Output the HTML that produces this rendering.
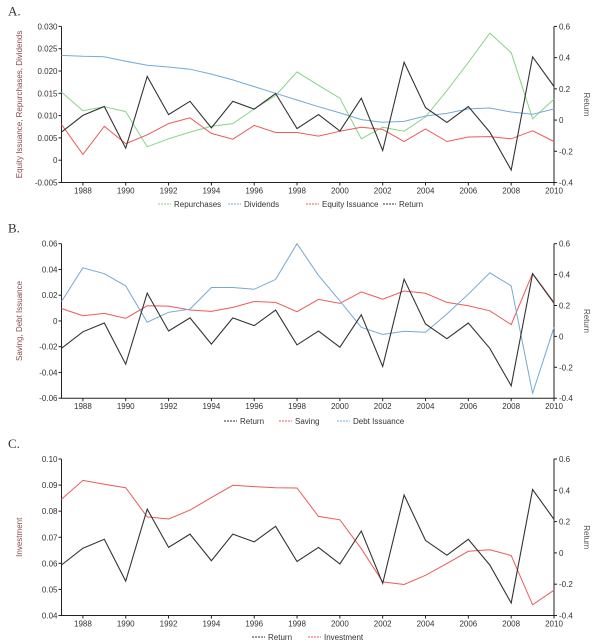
<!DOCTYPE html>
<html><head><meta charset="utf-8">
<style>
body{margin:0;background:#fff;}
svg{display:block;font-family:"Liberation Sans",sans-serif;}
</style></head>
<body>
<svg id="chart" width="600" height="644" viewBox="0 0 600 644" xmlns="http://www.w3.org/2000/svg"></svg>
<script>
const years = [1987,1988,1989,1990,1991,1992,1993,1994,1995,1996,1997,1998,1999,2000,2001,2002,2003,2004,2005,2006,2007,2008,2009,2010];
const xTickYears = [1988,1990,1992,1994,1996,1998,2000,2002,2004,2006,2008,2010];
const returnVals = [-0.077,0.03,0.087,-0.18,0.28,0.035,0.12,-0.05,0.12,0.07,0.17,-0.055,0.035,-0.07,0.14,-0.195,0.37,0.08,-0.015,0.087,-0.077,-0.32,0.405,0.215];
const dividends = [0.0235,0.0233,0.0232,0.0222,0.0213,0.0209,0.0204,0.0193,0.018,0.0165,0.015,0.0135,0.012,0.0106,0.0091,0.0085,0.0087,0.0099,0.0105,0.0115,0.0117,0.0108,0.0103,0.0115];
const repurchases = [0.0153,0.0111,0.012,0.0109,0.003,0.0048,0.0063,0.0076,0.0082,0.0115,0.0145,0.0198,0.0168,0.0139,0.0048,0.0074,0.0065,0.0097,0.0156,0.0219,0.0285,0.0241,0.0093,0.0137];
const equityIssuance = [0.008,0.0013,0.0076,0.0037,0.0057,0.0082,0.0095,0.006,0.0047,0.0078,0.0062,0.0062,0.0054,0.0065,0.0074,0.0069,0.0042,0.007,0.0042,0.0052,0.0053,0.0048,0.0066,0.0042];
const saving = [0.0097,0.0041,0.0059,0.002,0.0118,0.0115,0.0085,0.0074,0.0105,0.0151,0.0144,0.0072,0.0167,0.0136,0.0226,0.0169,0.0233,0.0215,0.0144,0.0118,0.0079,-0.0028,0.0369,0.0144];
const debtIssuance = [0.0151,0.0413,0.0367,0.0272,-0.001,0.0067,0.0092,0.026,0.026,0.0246,0.0323,0.06,0.0354,0.0156,-0.0049,-0.0105,-0.008,-0.0087,0.0054,0.0208,0.0374,0.0272,-0.0562,-0.0049];
const investment = [0.0846,0.0918,0.0903,0.089,0.0778,0.077,0.0804,0.0852,0.0899,0.0894,0.089,0.0889,0.078,0.0767,0.0656,0.0529,0.0519,0.0554,0.0599,0.0646,0.0652,0.063,0.0441,0.0497];
const leftTicksA = ["0.030","0.025","0.020","0.015","0.010","0.005","0","-0.005"];
const leftTicksB = ["0.06","0.04","0.02","0","-0.02","-0.04","-0.06"];
const leftTicksC = ["0.10","0.09","0.08","0.07","0.06","0.05","0.04"];
const rightTicks = ["0.6","0.4","0.2","0","-0.2","-0.4"];

const NS="http://www.w3.org/2000/svg";
const svg=document.getElementById('chart');
function mk(tag,attrs,parent){const e=document.createElementNS(NS,tag);for(const k in attrs)e.setAttribute(k,attrs[k]);(parent||svg).appendChild(e);return e;}
const X0=61.5,X1=554;
function xs(yr){return X0+(yr-1987)/(2010-1987)*(X1-X0);}

function panel(cfg){
  const g=mk('g',{});
  
  
  const top=cfg.top,bot=cfg.bot;
  const ly=v=>bot-(v-cfg.lmin)/(cfg.lmax-cfg.lmin)*(bot-top);
  const ry=v=>bot-(v+0.4)/1.0*(bot-top);
  const t=mk('text',{x:8,y:cfg.top-11,'font-family':'Liberation Serif,serif','font-size':13,fill:'#333'},g);t.textContent=cfg.letter;
  
  // axes
  const ax=mk('path',{d:`M${X0},${top}V${bot}H${X1}V${top}`,stroke:'#222','stroke-width':1,fill:'none'},g);
  
  cfg.lticks.forEach((s,i)=>{
    const y=top+i*(bot-top)/(cfg.lticks.length-1);
    mk('line',{x1:X0-3,x2:X0,y1:y,y2:y,stroke:'#222'},g);
    const tx=mk('text',{x:X0-4,y:y+3,'text-anchor':'end','font-size':8,fill:'#333'},g);tx.textContent=s;
    
  });
  rightTicks.forEach((s,i)=>{
    const y=top+i*(bot-top)/(rightTicks.length-1);
    mk('line',{x1:X1,x2:X1+3,y1:y,y2:y,stroke:'#222'},g);
    const tx=mk('text',{x:X1+5,y:y+3,'font-size':8,fill:'#333'},g);tx.textContent=s;
    
  });
  xTickYears.forEach(yr=>{
    const x=xs(yr);
    mk('line',{x1:x,x2:x,y1:bot,y2:bot+3,stroke:'#222'},g);
    const tx=mk('text',{x:x,y:bot+11,'text-anchor':'middle','font-size':8,fill:'#333'},g);tx.textContent=yr;
    
  });
  const lt=mk('text',{transform:`translate(${cfg.ltx},${(top+bot)/2}) rotate(-90)`,'text-anchor':'middle','font-size':8,fill:'#8a4a4a'},g);lt.textContent=cfg.ltitle;
  
  const rt=mk('text',{transform:`translate(584,${(top+bot)/2}) rotate(90)`,'text-anchor':'middle','font-size':8,fill:'#555'},g);rt.textContent='Return';
  
  cfg.series.forEach(s=>{
    const f=s.right?ry:ly;
    const d=s.data.map((v,i)=>(i?'L':'M')+xs(years[i]).toFixed(1)+','+f(v).toFixed(1)).join('');
    const p=mk('path',{d:d,stroke:s.color,'stroke-width':s.w||1,fill:'none'},g);
    
  });
  cfg.legend.forEach(l=>{
    const s=cfg.series.find(q=>q.id===l.id);
    const ln=mk('line',{x1:l.x,x2:l.x+13,y1:cfg.legY-3,y2:cfg.legY-3,stroke:s.color,'stroke-width':1,'stroke-dasharray':'2,1'},g);
    
    const tx=mk('text',{x:l.x+16,y:cfg.legY,'font-size':8,fill:'#333'},g);tx.textContent=l.label;
    
  });
}
const GREEN='#86d486',BLUE='#74a9d8',RED='#ee5a5a',BLACK='#333';
panel({name:'panel-a',letter:'A.',top:26.4,bot:182.5,lmin:-0.005,lmax:0.030,lticks:leftTicksA,ltx:22,
  ltitle:'Equity Issuance, Repurchases, Dividends',legY:207,
  series:[{id:'repurchases',data:repurchases,color:GREEN},{id:'dividends',data:dividends,color:BLUE},
  {id:'equity-issuance',data:equityIssuance,color:RED},{id:'return',data:returnVals,color:BLACK,right:true,w:1.1}],
  legend:[{id:'repurchases',x:158,label:'Repurchases'},{id:'dividends',x:228,label:'Dividends'},
  {id:'equity-issuance',x:306,label:'Equity Issuance'},{id:'return',x:383,label:'Return'}]});
panel({name:'panel-b',letter:'B.',top:243.7,bot:398.2,lmin:-0.06,lmax:0.06,lticks:leftTicksB,ltx:22,
  ltitle:'Saving, Debt Issuance',legY:424,
  series:[{id:'saving',data:saving,color:RED},{id:'debt-issuance',data:debtIssuance,color:BLUE},
  {id:'return',data:returnVals,color:BLACK,right:true,w:1.1}],
  legend:[{id:'return',x:224,label:'Return'},{id:'saving',x:279,label:'Saving'},{id:'debt-issuance',x:337,label:'Debt Issuance'}]});
panel({name:'panel-c',letter:'C.',top:459,bot:615.5,lmin:0.04,lmax:0.10,lticks:leftTicksC,ltx:22,
  ltitle:'Investment',legY:640,
  series:[{id:'investment',data:investment,color:RED},{id:'return',data:returnVals,color:BLACK,right:true,w:1.1}],
  legend:[{id:'return',x:252,label:'Return'},{id:'investment',x:308,label:'Investment'}]});
</script>
</body></html>
